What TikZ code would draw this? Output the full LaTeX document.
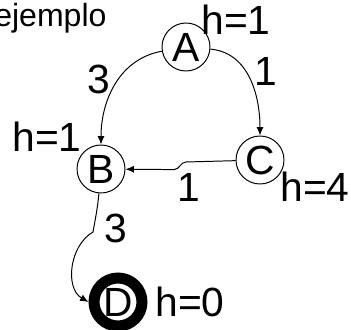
\documentclass[tikz,border=0pt]{standalone}
\usepackage{fontspec}
\setmainfont{Liberation Sans}
\usetikzlibrary{arrows.meta}
\begin{document}
\begin{tikzpicture}[
    nodo/.style={circle,draw,line width=0.7pt,minimum size=1.2cm,inner sep=0pt,font=\fontsize{29}{34}\selectfont},
    meta/.style={nodo,line width=7.8pt},
    txt/.style={inner sep=0pt,font=\fontsize{29}{34}\selectfont},
    arista/.style={line width=0.7pt,-{Latex[length=6pt,width=5pt]}}
  ]
    \useasboundingbox (0,0) rectangle (8.775,8.225);
    \node[anchor=base west,inner sep=0pt,font=\fontsize{22.8}{27}\selectfont] (titulo) at (-0.15,7.55) {ejemplo};
    % estados
    \node[nodo] (A) at (4.65,7.05) {A};
    \node[nodo] (B) at (2.525,4.0) {B};
    \node[nodo] (C) at (6.5,4.225) {C};
    \node[meta] (D) at (2.95,0.675) {D};
    % heuristicas
    \node[txt] (hA) at (5.9,7.725) {h=1};
    \node[txt] (hB) at (1.175,4.8) {h=1};
    \node[txt] (hC) at (7.875,3.55) {h=4};
    \node[txt] (hD) at (4.75,0.675) {h=0};
    % costes
    \node[txt] (cAB) at (2.475,6.25) {3};
    \node[txt] (cAC) at (6.65,6.45) {1};
    \node[txt] (cCB) at (4.725,3.55) {1};
    \node[txt] (cBD) at (2.9,2.525) {3};
    % quiebros de las aristas
    \coordinate (cb1) at (4.65,4.175);
    \coordinate (cb2) at (4.35,3.985);
    \coordinate (bd) at (2.325,2.425);
    \draw[arista] (A) to[out=190,in=90] (B);
    \draw[arista] (A) to[out=-5,in=90] (C);
    \draw[arista] (C) -- (cb1) to[out=180,in=0] (cb2) -- (B);
    \draw[arista] (B) to[out=-95,in=80] (bd) to[out=210,in=150] (D.180);
\end{tikzpicture}
\end{document}
